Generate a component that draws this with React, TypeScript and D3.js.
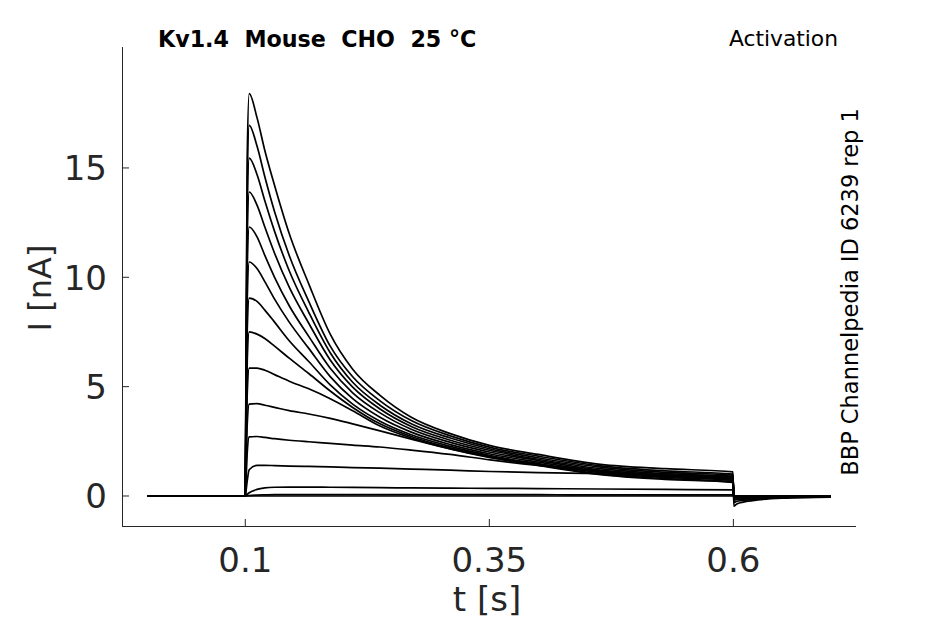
import React from "react";
import * as d3 from "d3";

// time samples (s)
const T = [0, 0.0999, 0.1005, 0.102, 0.104, 0.112, 0.12, 0.13, 0.145, 0.165, 0.187, 0.21, 0.238, 0.27, 0.31, 0.351, 0.40, 0.464, 0.53, 0.5995, 0.6005, 0.603, 0.61, 0.625, 0.65, 0.7];

// current traces (nA), one per voltage step
const trace1 = [0, 0, 4.0, 15.6, 18.4, 17.3, 15.8, 14.2, 12.0, 9.7, 7.4, 5.8, 4.6, 3.6, 2.85, 2.3, 1.9, 1.45, 1.25, 1.1, -0.47, -0.38, -0.28, -0.18, -0.1, -0.05];
const trace2 = [0, 0, 3.6, 14.4, 16.95, 16.0, 14.6, 13.0, 11.0, 8.9, 6.85, 5.45, 4.35, 3.45, 2.75, 2.22, 1.82, 1.38, 1.15, 1.0, -0.3, -0.25, -0.2, -0.13, -0.08, -0.04];
const trace3 = [0, 0, 3.2, 13.1, 15.45, 14.7, 13.5, 12.1, 10.3, 8.4, 6.55, 5.2, 4.15, 3.3, 2.65, 2.15, 1.75, 1.32, 1.08, 0.95, -0.2, -0.17, -0.14, -0.1, -0.06, -0.03];
const trace4 = [0, 0, 2.9, 11.8, 13.9, 13.3, 12.3, 11.1, 9.55, 7.9, 6.22, 4.98, 3.98, 3.18, 2.55, 2.08, 1.68, 1.25, 1.02, 0.9, -0.14, -0.12, -0.1, -0.07, -0.05, -0.03];
const trace5 = [0, 0, 2.5, 10.4, 12.3, 11.85, 11.0, 10.0, 8.7, 7.3, 5.84, 4.72, 3.8, 3.05, 2.45, 2.0, 1.62, 1.18, 0.96, 0.84, -0.1, -0.09, -0.08, -0.06, -0.04, -0.02];
const trace6 = [0, 0, 2.2, 9.0, 10.7, 10.4, 9.8, 9.0, 7.95, 6.75, 5.46, 4.45, 3.6, 2.92, 2.35, 1.92, 1.55, 1.12, 0.9, 0.78, -0.08, -0.07, -0.06, -0.05, -0.03, -0.02];
const trace7 = [0, 0, 1.8, 7.6, 9.05, 8.9, 8.5, 7.95, 7.1, 6.15, 5.08, 4.2, 3.42, 2.8, 2.27, 1.85, 1.48, 1.06, 0.85, 0.72, -0.06, -0.05, -0.05, -0.04, -0.03, -0.02];
const trace8 = [0, 0, 1.4, 6.2, 7.5, 7.4, 7.2, 6.85, 6.3, 5.6, 4.8, 4.05, 3.3, 2.72, 2.2, 1.8, 1.43, 1.0, 0.8, 0.66, -0.05, -0.04, -0.04, -0.03, -0.02, -0.01];
const trace9 = [0, 0, 1.0, 4.7, 5.85, 5.85, 5.75, 5.55, 5.25, 4.9, 4.45, 3.9, 3.2, 2.65, 2.15, 1.75, 1.4, 0.98, 0.76, 0.62, -0.04, -0.03, -0.03, -0.02, -0.02, -0.01];
const trace10 = [0, 0, 0.7, 3.3, 4.2, 4.22, 4.15, 4.05, 3.9, 3.75, 3.55, 3.3, 2.98, 2.6, 2.15, 1.78, 1.45, 1.1, 0.88, 0.72, -0.03, -0.03, -0.02, -0.02, -0.01, -0.01];
const trace11 = [0, 0, 0.4, 2.0, 2.7, 2.72, 2.68, 2.62, 2.55, 2.48, 2.41, 2.33, 2.24, 2.1, 1.9, 1.65, 1.4, 1.15, 0.95, 0.8, -0.02, -0.02, -0.02, -0.01, -0.01, 0];
const trace12 = [0, 0, 0.15, 0.7, 1.2, 1.4, 1.4, 1.39, 1.37, 1.35, 1.33, 1.3, 1.27, 1.23, 1.18, 1.12, 1.07, 1.02, 0.95, 0.88, -0.02, -0.01, -0.01, -0.01, 0, 0];
const trace13 = [0, 0, 0.02, 0.08, 0.15, 0.3, 0.37, 0.4, 0.41, 0.41, 0.4, 0.39, 0.38, 0.37, 0.36, 0.35, 0.34, 0.32, 0.3, 0.28, -0.01, -0.01, 0, 0, 0, 0];
const trace14 = [0, 0, 0, 0.01, 0.02, 0.04, 0.05, 0.06, 0.06, 0.06, 0.06, 0.06, 0.06, 0.06, 0.06, 0.06, 0.06, 0.05, 0.05, 0.05, 0, 0, 0, 0, 0, 0];
const trace15 = [0, 0, 0, 0, 0, 0, 0, 0, 0, 0, 0, 0, 0, 0, 0, 0, 0, 0, 0, 0, 0, 0, 0, 0, 0, 0];

const TRACES = [trace1, trace2, trace3, trace4, trace5, trace6, trace7, trace8, trace9, trace10, trace11, trace12, trace13, trace14, trace15];

const X_TICKS = [0.1, 0.35, 0.6];
const X_TICK_LABELS = ["0.1", "0.35", "0.6"];
const Y_TICKS = [0, 5, 10, 15];
const Y_TICK_LABELS = ["0", "5", "10", "15"];

const TITLE = "Kv1.4  Mouse  CHO  25 °C";
const SUBTITLE = "Activation";
const SIDE_NOTE = "BBP Channelpedia ID 6239 rep 1";

const W = 945;
const H = 624;
const L = 122, R = 856, TOP = 47, BOT = 526;
const AX = "#262626";
const FONT = "DejaVu Sans, sans-serif";

export default function App() {
  const x = d3.scaleLinear().domain([-0.0263, 0.7256]).range([L, R]);
  const y = d3.scaleLinear().domain([-1.372, 20.53]).range([BOT, TOP]);
  const line = d3
    .line<number>()
    .x((_, i) => x(T[i]))
    .y((v) => y(v))
    .curve(d3.curveMonotoneX);

  return (
    <svg
      width={W}
      height={H}
      style={{ position: "absolute", left: 0, top: 0, background: "#fff" }}
      fontFamily={FONT}
    >
      <rect width={W} height={H} fill="#fff" />
      {TRACES.map((tr, i) => (
        <path key={i} d={line(tr) || ""} fill="none" stroke="#000" strokeWidth={1.7} strokeLinejoin="round" />
      ))}
      {/* axes */}
      <line x1={L + 0.5} x2={L + 0.5} y1={TOP} y2={BOT} stroke={AX} strokeWidth={1} />
      <line x1={L} x2={R} y1={BOT + 0.5} y2={BOT + 0.5} stroke={AX} strokeWidth={1} />
      {X_TICKS.map((t, i) => (
        <g key={"xt" + i}>
          <line x1={x(t)} x2={x(t)} y1={BOT} y2={BOT - 7} stroke={AX} strokeWidth={1} />
          <text x={x(t)} y={572} textAnchor="middle" fontSize={34} fill={AX}>
            {X_TICK_LABELS[i]}
          </text>
        </g>
      ))}
      {Y_TICKS.map((v, i) => (
        <g key={"yt" + i}>
          <line x1={L} x2={L + 7} y1={y(v)} y2={y(v)} stroke={AX} strokeWidth={1} />
          <text x={107} y={y(v)} dy="0.36em" textAnchor="end" fontSize={34} fill={AX}>
            {Y_TICK_LABELS[i]}
          </text>
        </g>
      ))}
      <text x={487} y={611} textAnchor="middle" fontSize={34} fill={AX}>
        t [s]
      </text>
      <text transform="translate(51,288) rotate(-90)" textAnchor="middle" fontSize={32} fill={AX}>
        I [nA]
      </text>
      <text x={158} y={47} fontSize={22.2} fontWeight="bold" fill="#000" style={{ whiteSpace: "pre" }}>
        {TITLE}
      </text>
      <text x={838} y={46} textAnchor="end" fontSize={21.8} fill="#000">
        {SUBTITLE}
      </text>
      <text transform="translate(858,292) rotate(-90)" textAnchor="middle" fontSize={22.5} fill="#000">
        {SIDE_NOTE}
      </text>
    </svg>
  );
}
